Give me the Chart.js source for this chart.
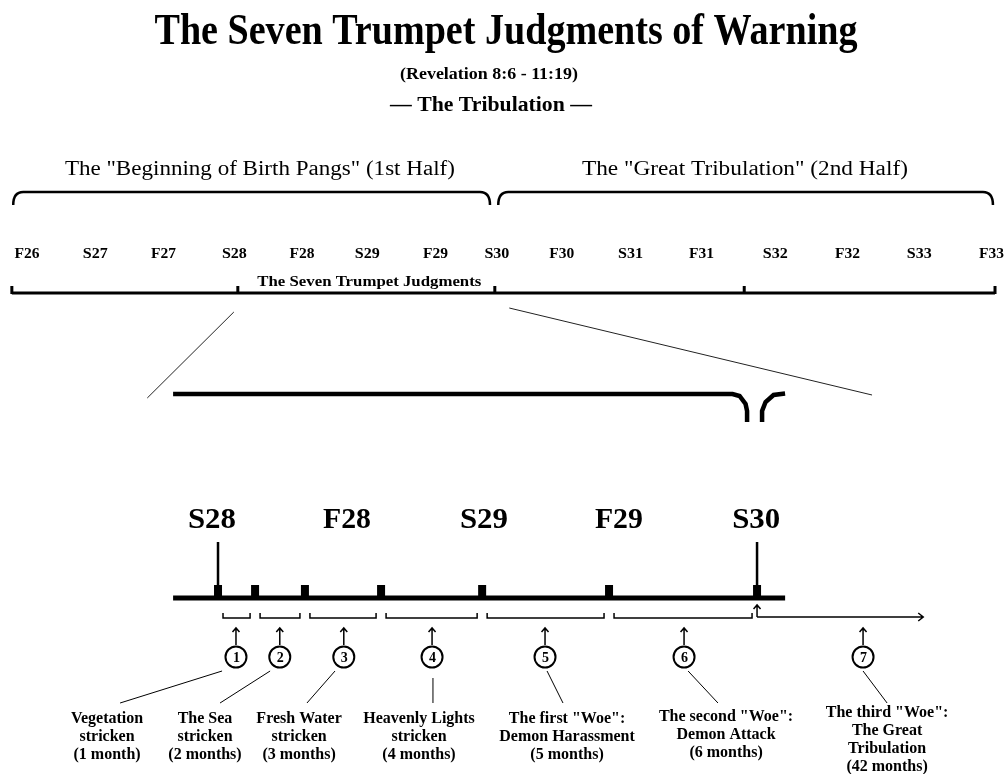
<!DOCTYPE html>
<html>
<head>
<meta charset="utf-8">
<title>The Seven Trumpet Judgments of Warning</title>
<script src="https://cdn.jsdelivr.net/npm/chart.js@4.4.0/dist/chart.umd.min.js"></script>
<style>
  html, body { margin: 0; padding: 0; background: #fff; }
  #chart { display: block; }
</style>
</head>
<body>
<canvas id="chart" width="1005" height="774"></canvas>
<script>
    // top time line: seasons (half years), positions in season steps
    const topSeasons = ['F26', 'S27', 'F27', 'S28', 'F28', 'S29', 'F29', 'S30', 'F30', 'S31', 'F31', 'S32', 'F32', 'S33', 'F33'];
    const topSeasonAt = [0, 0.99, 1.98, 3.01, 3.99, 4.94, 5.93, 6.82, 7.76, 8.76, 9.79, 10.86, 11.91, 12.95, 14.0];
    const halves = ['The "Beginning of Birth Pangs" (1st Half)', 'The "Great Tribulation" (2nd Half)'];
    const halfSpans = [[-0.2, 6.72], [6.84, 14.02]];
    const halfLabelAt = [3.38, 10.42];
    const rulerTicks = [-0.22, 3.06, 6.79, 10.41, 14.05];
    const rulerLabel = 'The Seven Trumpet Judgments';

    // bottom time line: months counted from S28
    const bottomSeasons = ['S28', 'F28', 'S29', 'F29', 'S30'];
    const bottomSeasonAt = [-0.27, 5.74, 11.84, 17.85, 23.96];
    const timelineSpan = [-2, 25.25];
    const trumpetStart = [0, 1.65, 3.87, 7.26, 11.76, 17.41, 24];
    const lastTrumpetEnd = 31.4;
    const trumpetMonths = [1, 2, 3, 4, 5, 6, 42];
    const trumpetMarkAt = [0.8, 2.75, 5.6, 9.53, 14.56, 20.75, 28.72];
    const trumpetNames = [
        ['Vegetation', 'stricken'],
        ['The Sea', 'stricken'],
        ['Fresh Water', 'stricken'],
        ['Heavenly Lights', 'stricken'],
        ['The first "Woe":', 'Demon Harassment'],
        ['The second "Woe":', 'Demon Attack'],
        ['The third "Woe":', 'The Great', 'Tribulation']
    ];
    const labelAt = [-4.94, -0.58, 3.61, 8.95, 15.54, 22.62, 29.79];
    const pointerFrom = [0.18, 2.32, 5.21, 9.57, 14.65, 20.93, 28.72];
    const pointerTo = [-4.36, 0.09, 3.96, 9.57, 15.36, 22.26, 29.79];

    const serif = '"Liberation Serif", "Times New Roman", serif';

    // text centred on x, optionally stretched to a given width
    const text = (ctx, str, x, y, font, width) => {
        ctx.save();
        ctx.font = font;
        ctx.textAlign = 'center';
        ctx.textBaseline = 'alphabetic';
        ctx.fillStyle = '#000';
        ctx.translate(x, y);
        if (width) {
            ctx.scale(width / ctx.measureText(str).width, 1);
        }
        ctx.fillText(str, 0, 0);
        ctx.restore();
    };

    const upArrow = (ctx, x, y1, y2) => {
        ctx.beginPath();
        ctx.moveTo(x, y2);
        ctx.lineTo(x, y1);
        ctx.moveTo(x - 3.5, y1 + 4);
        ctx.lineTo(x, y1);
        ctx.lineTo(x + 3.5, y1 + 4);
        ctx.stroke();
    };

    const diagram = {
        id: 'diagram',
        afterDatasetsDraw(chart) {
            const ctx = chart.ctx;
            const sx = chart.scales.x;
            const sm = chart.scales.xm;
            const px = v => sx.getPixelForValue(v);
            const pm = v => sm.getPixelForValue(v);

            ctx.save();
            ctx.strokeStyle = '#000';
            ctx.fillStyle = '#000';

            // headings
            text(ctx, 'The Seven Trumpet Judgments of Warning', 506, 44, `bold 44px ${serif}`, 703);
            text(ctx, '(Revelation 8:6 - 11:19)', 489, 79, `bold 17px ${serif}`, 178);
            text(ctx, '\u2014 The Tribulation \u2014', 491, 111, `bold 20px ${serif}`, 202);

            // halves with braces
            halves.forEach((h, i) => {
                text(ctx, h, px(halfLabelAt[i]), 175, `20px ${serif}`, i === 0 ? 390 : 326);
                const x1 = px(halfSpans[i][0]);
                const x2 = px(halfSpans[i][1]);
                ctx.lineWidth = 2.5;
                ctx.beginPath();
                ctx.moveTo(x1, 205);
                ctx.quadraticCurveTo(x1, 192, x1 + 10, 192);
                ctx.lineTo(x2 - 10, 192);
                ctx.quadraticCurveTo(x2, 192, x2, 205);
                ctx.stroke();
            });

            // season labels on the top line
            topSeasons.forEach((s, i) => {
                text(ctx, s, px(topSeasonAt[i]), 258, `bold 14px ${serif}`, 25);
            });

            // ruler ticks
            rulerTicks.forEach(t => {
                ctx.fillRect(px(t) - 1.5, 286, 3, 8);
            });
            text(ctx, rulerLabel, (px(rulerTicks[1]) + px(rulerTicks[2])) / 2 + 3, 286, `bold 14px ${serif}`, 224);

            // zoom guide lines
            ctx.lineWidth = 1;
            ctx.strokeStyle = '#222';
            ctx.beginPath();
            ctx.moveTo(px(rulerTicks[1]) - 4, 312);
            ctx.lineTo(pm(-3.15), 398);
            ctx.moveTo(px(7.0), 308);
            ctx.lineTo(pm(29.12), 395);
            ctx.stroke();
            ctx.strokeStyle = '#000';

            // expanded trumpet bracket, split at S30
            const g = pm(23.89);
            ctx.lineWidth = 4.5;
            ctx.lineCap = 'butt';
            ctx.beginPath();
            ctx.moveTo(pm(timelineSpan[0]), 394);
            ctx.lineTo(g - 22, 394);
            ctx.lineTo(g - 15, 396);
            ctx.lineTo(g - 9, 404);
            ctx.lineTo(g - 7.5, 411);
            ctx.lineTo(g - 7.5, 422);
            ctx.moveTo(g + 7.5, 422);
            ctx.lineTo(g + 7.5, 411);
            ctx.lineTo(g + 11, 402);
            ctx.lineTo(g + 19, 395);
            ctx.lineTo(g + 30.5, 393.5);
            ctx.stroke();

            // season labels on the bottom line
            bottomSeasons.forEach((s, i) => {
                text(ctx, s, pm(bottomSeasonAt[i]), 528, `bold 30px ${serif}`, 48);
            });

            // S28 and S30 markers
            ctx.lineWidth = 2.5;
            ctx.beginPath();
            [trumpetStart[0], trumpetStart[6]].forEach(t => {
                ctx.moveTo(pm(t), 542);
                ctx.lineTo(pm(t), 590);
            });
            ctx.stroke();

            // trumpet start blocks
            trumpetStart.forEach(t => {
                ctx.fillRect(pm(t) - 4, 585, 8, 13);
            });

            // duration brackets and arrows
            ctx.lineWidth = 1.5;
            for (let i = 0; i < 6; i++) {
                const a = pm(trumpetStart[i]) + 5;
                const b = pm(trumpetStart[i + 1]) - 5;
                ctx.beginPath();
                ctx.moveTo(a, 613);
                ctx.lineTo(a, 618);
                ctx.lineTo(b, 618);
                ctx.lineTo(b, 613);
                ctx.stroke();
            }
            const s30 = pm(trumpetStart[6]);
            const end7 = pm(lastTrumpetEnd);
            upArrow(ctx, s30, 605, 617);
            ctx.beginPath();
            ctx.moveTo(s30, 617);
            ctx.lineTo(end7, 617);
            ctx.moveTo(end7 - 5, 613);
            ctx.lineTo(end7, 617);
            ctx.lineTo(end7 - 5, 621);
            ctx.stroke();

            // numbered markers, pointers and captions
            trumpetMarkAt.forEach((m, i) => {
                const x = pm(m);
                ctx.lineWidth = 1.5;
                upArrow(ctx, x, 628, 645);
                text(ctx, String(i + 1), x + 0.5, 662, `bold 14px ${serif}`);

                ctx.lineWidth = 1;
                ctx.beginPath();
                ctx.moveTo(pm(pointerFrom[i]), i === 3 ? 678 : 671);
                ctx.lineTo(pm(pointerTo[i]), 703);
                ctx.stroke();

                const n = trumpetMonths[i];
                const lines = trumpetNames[i].concat(`(${n} month${n > 1 ? 's' : ''})`);
                const top = i < 5 ? 723 : (i === 5 ? 721 : 717);
                lines.forEach((l, k) => {
                    text(ctx, l, pm(labelAt[i]), top + k * 18, `bold 16px ${serif}`);
                });
            });

            ctx.restore();
        }
    };

    const chart = new Chart(document.getElementById('chart'), {
        type: 'scatter',
        data: {
            datasets: [
                {
                    // numbered trumpet circles
                    xAxisID: 'xm',
                    data: trumpetMarkAt.map(m => ({ x: m, y: 657 })),
                    pointRadius: 10.5,
                    pointBackgroundColor: '#fff',
                    pointBorderColor: '#000',
                    pointBorderWidth: 2
                },
                {
                    // top ruler
                    type: 'line',
                    xAxisID: 'x',
                    data: [{ x: rulerTicks[0], y: 293 }, { x: rulerTicks[rulerTicks.length - 1], y: 293 }],
                    borderColor: '#000',
                    borderWidth: 3,
                    pointRadius: 0
                },
                {
                    // bottom time line
                    type: 'line',
                    xAxisID: 'xm',
                    data: [{ x: timelineSpan[0], y: 598 }, { x: timelineSpan[1], y: 598 }],
                    borderColor: '#000',
                    borderWidth: 5,
                    pointRadius: 0
                }
            ]
        },
        options: {
            responsive: false,
            animation: false,
            devicePixelRatio: 1,
            events: [],
            layout: { padding: 0, autoPadding: false },
            plugins: { legend: { display: false }, tooltip: { enabled: false } },
            scales: {
                x: { type: 'linear', display: false, min: -0.392, max: 14.195 },
                xm: { type: 'linear', axis: 'x', display: false, min: -9.707, max: 35.04 },
                y: { type: 'linear', display: false, min: 0, max: 774, reverse: true }
            }
        },
        plugins: [diagram]
    });
</script>
</body>
</html>
